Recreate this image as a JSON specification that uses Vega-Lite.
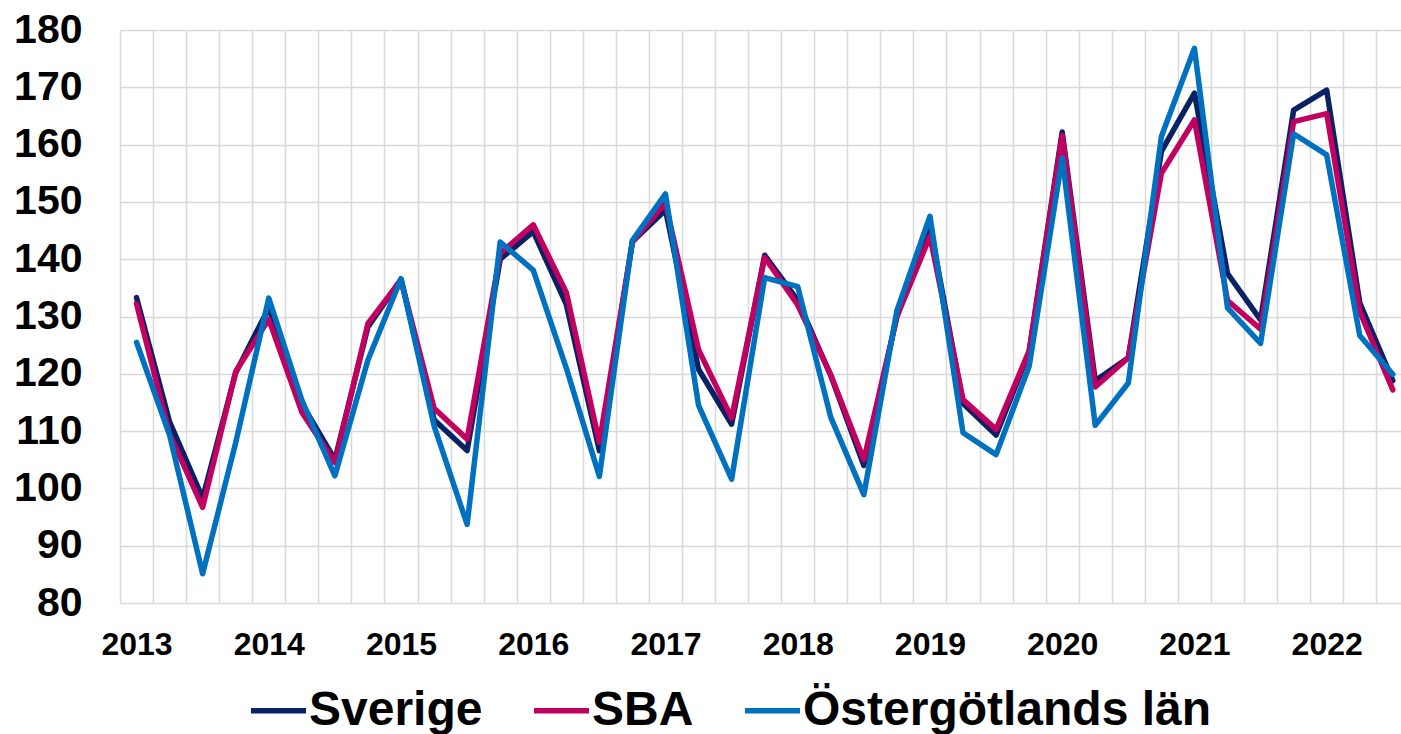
{
  "$schema": "https://vega.github.io/schema/vega-lite/v6.json",
  "width": 1281,
  "height": 573,
  "autosize": {"type": "none"},
  "padding": {"left": 120, "top": 30, "right": 0, "bottom": 131},
  "background": "white",
  "config": {
    "view": {"stroke": null},
    "font": "Liberation Sans",
    "axis": {"labelFont": "Liberation Sans", "labelFontWeight": "bold", "labelColor": "#000000", "gridColor": "#d9d9d9", "gridWidth": 1.5, "domain": false, "ticks": false, "tickSize": 0, "title": null}
  },
  "data": {
    "values": [
      {"t": 2013.0, "Sverige": 133.3, "SBA": 132.2, "Ost": 125.5},
      {"t": 2013.25, "Sverige": 111.6, "SBA": 109.5, "Ost": 109.3},
      {"t": 2013.5, "Sverige": 98.3, "SBA": 96.7, "Ost": 85.1},
      {"t": 2013.75, "Sverige": 120.2, "SBA": 120.4, "Ost": 108.0},
      {"t": 2014.0, "Sverige": 131.5, "SBA": 129.5, "Ost": 133.2},
      {"t": 2014.25, "Sverige": 114.8, "SBA": 113.3, "Ost": 115.4},
      {"t": 2014.5, "Sverige": 105.0, "SBA": 104.5, "Ost": 102.2},
      {"t": 2014.75, "Sverige": 128.2, "SBA": 128.8, "Ost": 122.4},
      {"t": 2015.0, "Sverige": 136.5, "SBA": 136.4, "Ost": 136.6},
      {"t": 2015.25, "Sverige": 112.0, "SBA": 114.0, "Ost": 110.9},
      {"t": 2015.5, "Sverige": 106.6, "SBA": 108.6, "Ost": 93.7},
      {"t": 2015.75, "Sverige": 140.0, "SBA": 141.0, "Ost": 143.0},
      {"t": 2016.0, "Sverige": 144.8, "SBA": 146.0, "Ost": 138.1},
      {"t": 2016.25, "Sverige": 132.1, "SBA": 134.2, "Ost": 121.0},
      {"t": 2016.5, "Sverige": 106.6, "SBA": 108.0, "Ost": 102.1},
      {"t": 2016.75, "Sverige": 143.1, "SBA": 143.0, "Ost": 143.3},
      {"t": 2017.0, "Sverige": 148.6, "SBA": 149.8, "Ost": 151.4},
      {"t": 2017.25, "Sverige": 120.8, "SBA": 124.2, "Ost": 114.5},
      {"t": 2017.5, "Sverige": 111.2, "SBA": 112.3, "Ost": 101.6},
      {"t": 2017.75, "Sverige": 140.7, "SBA": 140.3, "Ost": 136.8},
      {"t": 2018.0, "Sverige": 132.8, "SBA": 132.0, "Ost": 135.2},
      {"t": 2018.25, "Sverige": 119.7, "SBA": 119.8, "Ost": 112.4},
      {"t": 2018.5, "Sverige": 104.0, "SBA": 105.0, "Ost": 98.9},
      {"t": 2018.75, "Sverige": 130.0, "SBA": 130.0, "Ost": 131.0},
      {"t": 2019.0, "Sverige": 145.9, "SBA": 144.0, "Ost": 147.5},
      {"t": 2019.25, "Sverige": 114.8, "SBA": 115.5, "Ost": 109.7},
      {"t": 2019.5, "Sverige": 109.3, "SBA": 110.3, "Ost": 105.9},
      {"t": 2019.75, "Sverige": 123.8, "SBA": 124.0, "Ost": 121.3},
      {"t": 2020.0, "Sverige": 162.2, "SBA": 161.6, "Ost": 157.7},
      {"t": 2020.25, "Sverige": 118.8, "SBA": 117.7, "Ost": 111.0},
      {"t": 2020.5, "Sverige": 122.8, "SBA": 122.8, "Ost": 118.4},
      {"t": 2020.75, "Sverige": 158.8, "SBA": 155.0, "Ost": 161.4},
      {"t": 2021.0, "Sverige": 169.0, "SBA": 164.3, "Ost": 176.8},
      {"t": 2021.25, "Sverige": 137.5, "SBA": 132.8, "Ost": 131.5},
      {"t": 2021.5, "Sverige": 129.4, "SBA": 127.8, "Ost": 125.3},
      {"t": 2021.75, "Sverige": 166.0, "SBA": 164.0, "Ost": 161.9},
      {"t": 2022.0, "Sverige": 169.5, "SBA": 165.4, "Ost": 158.2},
      {"t": 2022.25, "Sverige": 132.4, "SBA": 130.9, "Ost": 126.7},
      {"t": 2022.5, "Sverige": 118.8, "SBA": 117.2, "Ost": 119.9}
    ]
  },
  "encoding": {
    "x": {
      "field": "t",
      "type": "quantitative",
      "scale": {"domain": [2012.875, 2022.562], "nice": false, "zero": false},
      "axis": {
        "values": [2012.875, 2013, 2013.125, 2013.375, 2013.625, 2013.875, 2014, 2014.125, 2014.375, 2014.625, 2014.875, 2015, 2015.125, 2015.375, 2015.625, 2015.875, 2016, 2016.125, 2016.375, 2016.625, 2016.875, 2017, 2017.125, 2017.375, 2017.625, 2017.875, 2018, 2018.125, 2018.375, 2018.625, 2018.875, 2019, 2019.125, 2019.375, 2019.625, 2019.875, 2020, 2020.125, 2020.375, 2020.625, 2020.875, 2021, 2021.125, 2021.375, 2021.625, 2021.875, 2022, 2022.125, 2022.375],
        "tickCount": 1000,
        "tickMinStep": 0.001,
        "format": "d",
        "labelExpr": "datum.value % 1 === 0 ? datum.label : ''",
        "labelOverlap": false,
        "labelFlush": false,
        "labelBound": false,
        "labelFontSize": 32,
        "labelPadding": 26,
        "grid": true,
        "gridOpacity": {"condition": {"test": "datum.value % 1 === 0", "value": 0}, "value": 1}
      }
    }
  },
  "layer": [
    {
      "mark": {"type": "line", "strokeWidth": 5.5, "strokeJoin": "round", "strokeCap": "round"},
      "encoding": {
        "y": {
          "field": "Sverige",
          "type": "quantitative",
          "scale": {"domain": [80, 180], "nice": false, "zero": false},
          "axis": {"values": [80, 90, 100, 110, 120, 130, 140, 150, 160, 170, 180], "format": "d", "labelFontSize": 41, "labelPadding": 38, "grid": true}
        },
        "color": {
          "datum": "Sverige",
          "type": "nominal",
          "scale": {"domain": ["Sverige", "SBA", "Östergötlands län"], "range": ["#0a2163", "#c2005f", "#0070c0"]},
          "legend": {
            "title": null,
            "orient": "none",
            "legendX": 128,
            "legendY": 650,
            "direction": "horizontal",
            "symbolType": "stroke",
            "symbolSize": 3025,
            "symbolStrokeWidth": 5.5,
            "labelFont": "Liberation Sans",
            "labelFontWeight": "bold",
            "labelFontSize": 48,
            "labelColor": "#000000",
            "labelOffset": 0,
            "columnPadding": 40,
            "labelLimit": 600
          }
        }
      }
    },
    {
      "mark": {"type": "line", "strokeWidth": 5.5, "strokeJoin": "round", "strokeCap": "round"},
      "encoding": {
        "y": {"field": "SBA", "type": "quantitative"},
        "color": {"datum": "SBA", "type": "nominal"}
      }
    },
    {
      "mark": {"type": "line", "strokeWidth": 5.5, "strokeJoin": "round", "strokeCap": "round"},
      "encoding": {
        "y": {"field": "Ost", "type": "quantitative"},
        "color": {"datum": "Östergötlands län", "type": "nominal"}
      }
    }
  ]
}
